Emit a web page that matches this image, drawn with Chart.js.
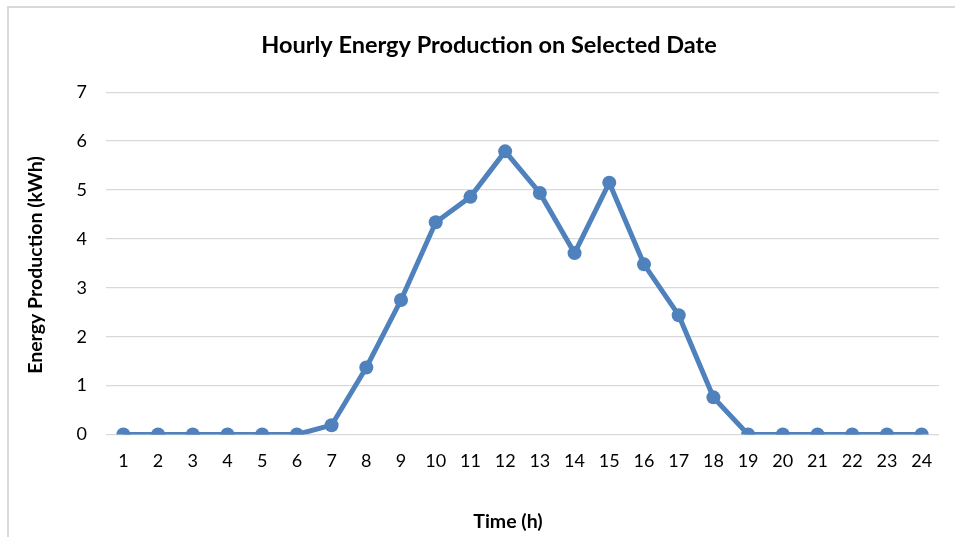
<!DOCTYPE html>
<html>
<head>
<meta charset="utf-8">
<script src="https://cdn.jsdelivr.net/npm/chart.js@4/dist/chart.umd.min.js"></script>
<style>
  html, body { margin: 0; padding: 0; background: #fff; overflow: hidden; }
  #wrap { position: relative; width: 955px; height: 537px; }
  #frame { position: absolute; left: 7px; top: 6px; width: 1000px; height: 600px; border: 2px solid #d9d9d9; box-sizing: border-box; pointer-events: none; }
  canvas { position: absolute; left: 0; top: 0; }
</style>
</head>
<body>
<div id="wrap">
  <canvas id="c" width="955" height="537"></canvas>
  <div id="frame"></div>
</div>
<script>
const titleText = 'Hourly Energy Production on Selected Date';
const xTitle = 'Time (h)';
const yTitle = 'Energy Production (kWh)';
const hours = ['1','2','3','4','5','6','7','8','9','10','11','12','13','14','15','16','17','18','19','20','21','22','23','24'];
const production = [0, 0, 0, 0, 0, 0, 0.19, 1.37, 2.75, 4.34, 4.86, 5.79, 4.94, 3.71, 5.15, 3.48, 2.44, 0.76, 0, 0, 0, 0, 0, 0];
const yTicks = [0, 1, 2, 3, 4, 5, 6, 7];

const FONT = 'Lato, "Open Sans", sans-serif';
const BLUE = '#4F81BD';

const positionPlugin = {
  id: 'positionPlugin',
  afterLayout(chart) {
    const t = chart.titleBlock;
    if (t) {
      const dx = 489 - (t.left + t.right) / 2;
      t.left += dx; t.right += dx;
    }
  },
  afterDraw(chart) {
    const ctx = chart.ctx;
    ctx.save();
    ctx.fillStyle = '#000';
    ctx.font = 'bold 19.5px ' + FONT;
    ctx.textAlign = 'center';
    ctx.textBaseline = 'middle';
    ctx.fillText(xTitle, 508, 522);
    ctx.translate(36, 265);
    ctx.rotate(-Math.PI / 2);
    ctx.fillText(yTitle, 0, 0);
    ctx.restore();
  }
};

new Chart(document.getElementById('c'), {
  type: 'line',
  data: {
    labels: hours,
    datasets: [{
      data: production,
      borderColor: BLUE,
      backgroundColor: BLUE,
      borderWidth: 5,
      pointRadius: 7,
      pointHoverRadius: 7,
      pointBackgroundColor: BLUE,
      pointBorderWidth: 0,
      tension: 0,
      fill: false
    }]
  },
  options: {
    responsive: false,
    animation: false,
    layout: { padding: { left: 0, right: 16, top: 0, bottom: 0 } },
    plugins: {
      legend: { display: false },
      tooltip: { enabled: false },
      title: {
        display: true,
        text: titleText,
        color: '#000',
        font: { family: FONT, size: 23.5, weight: 'bold' },
        padding: { top: 31, bottom: 33 }
      }
    },
    scales: {
      x: {
        type: 'category',
        offset: true,
        grid: { display: false, drawTicks: false },
        border: { display: false },
        ticks: { color: '#000', font: { family: FONT, size: 18 }, padding: 16, maxRotation: 0, autoSkip: false },
        afterFit(s) { s.height = 102.5; }
      },
      y: {
        min: 0,
        max: 7,
        afterBuildTicks(s) { s.ticks = yTicks.map(v => ({ value: v })); },
        grid: { color: '#d9d9d9', lineWidth: 1.3, drawTicks: false },
        border: { display: false },
        ticks: { color: '#000', font: { family: FONT, size: 18 }, padding: 19 },
        afterFit(s) { s.width = 106; }
      }
    }
  },
  plugins: [positionPlugin]
});
</script>
</body>
</html>
